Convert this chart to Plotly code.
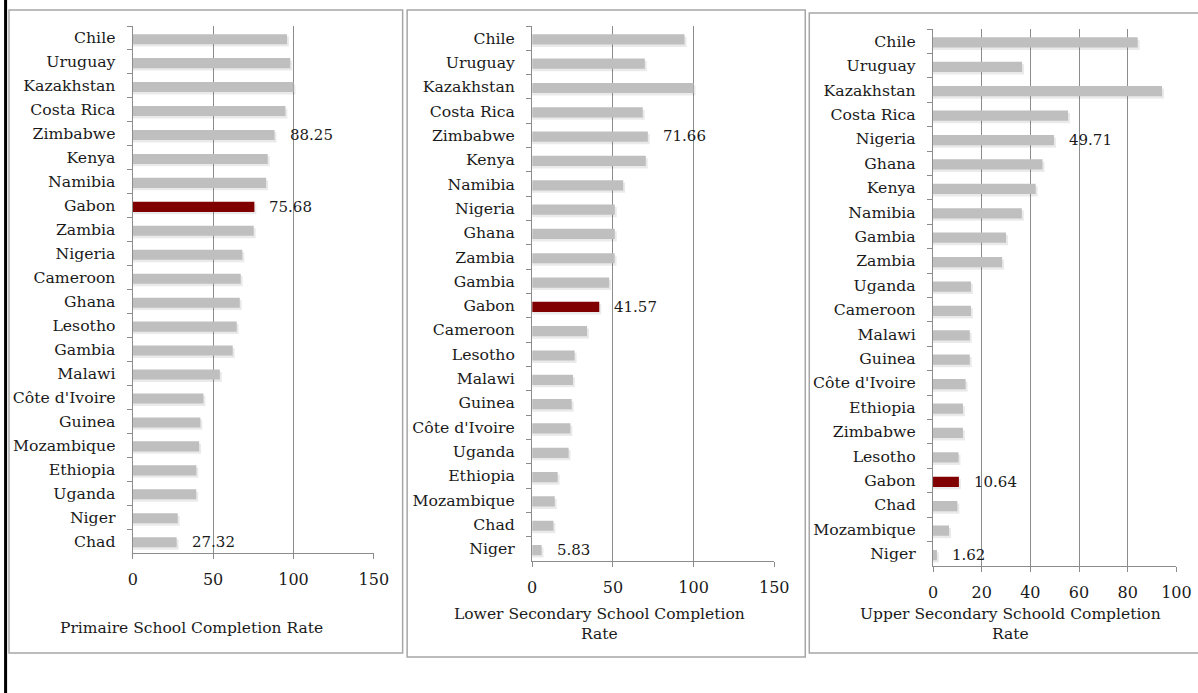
import plotly.graph_objects as go

W, H = 1198, 693
# observed horizontal mapping of the rendered paper: screen_x = X0 + paper_px * (WE / W)
X0, WE = 5.0, 1177.6

# ---------------- data ----------------
p1_countries = ["Chile", "Uruguay", "Kazakhstan", "Costa Rica", "Zimbabwe", "Kenya", "Namibia",
                "Gabon", "Zambia", "Nigeria", "Cameroon", "Ghana", "Lesotho", "Gambia", "Malawi",
                "Côte d'Ivoire", "Guinea", "Mozambique", "Ethiopia", "Uganda", "Niger", "Chad"]
p1_values = [96.0, 98.0, 100.0, 95.0, 88.25, 84.0, 83.0, 75.68, 75.3, 68.2, 67.2, 66.6, 64.7,
             62.2, 54.2, 44.0, 42.1, 41.3, 39.6, 39.5, 28.0, 27.32]
p1_labeled = ["Zimbabwe", "Gabon", "Chad"]

p2_countries = ["Chile", "Uruguay", "Kazakhstan", "Costa Rica", "Zimbabwe", "Kenya", "Namibia",
                "Nigeria", "Ghana", "Zambia", "Gambia", "Gabon", "Cameroon", "Lesotho", "Malawi",
                "Guinea", "Côte d'Ivoire", "Uganda", "Ethiopia", "Mozambique", "Chad", "Niger"]
p2_values = [94.4, 69.8, 100.0, 68.5, 71.66, 70.4, 56.4, 51.2, 51.2, 51.1, 47.7, 41.57, 34.0,
             26.3, 25.3, 24.5, 23.7, 22.6, 15.8, 14.0, 13.2, 5.83]
p2_labeled = ["Zimbabwe", "Gabon", "Niger"]

p3_countries = ["Chile", "Uruguay", "Kazakhstan", "Costa Rica", "Nigeria", "Ghana", "Kenya",
                "Namibia", "Gambia", "Zambia", "Uganda", "Cameroon", "Malawi", "Guinea",
                "Côte d'Ivoire", "Ethiopia", "Zimbabwe", "Lesotho", "Gabon", "Chad",
                "Mozambique", "Niger"]
p3_values = [84.1, 36.6, 94.1, 55.5, 49.71, 45.0, 42.2, 36.5, 30.0, 28.4, 15.6, 15.6, 15.1,
             15.1, 13.4, 12.3, 12.3, 10.5, 10.64, 10.0, 6.6, 1.62]
p3_labeled = ["Nigeria", "Gabon", "Niger"]

x_ticks_12 = [0, 50, 100, 150]
x_ticks_3 = [0, 20, 40, 60, 80, 100]

titles = ["Primaire School Completion Rate",
          "Lower Secondary School Completion<br>Rate",
          "Upper Secondary Schoold Completion<br>Rate"]

# ---------------- styling ----------------
FONT = "DejaVu Serif"
TXT = "#1a1a1a"
GRAY_BAR = "#bfbfbf"
HIGHLIGHT = "#800000"
GRID = "#8c8c8c"
FRAME = "#a6a6a6"


def fx(px):
    return (px - X0) / WE


# panel geometry in pixels: (x_left, x_right, y_top, y_bottom)
plots = [(132.7, 373.7, 26, 553), (532, 774, 26, 561), (932.7, 1176, 29, 566)]
frames = [(9, 402.5, 10, 653), (407, 805, 10, 657), (809, 1260, 13, 653)]
title_pos = [(191, 628), (599, 624), (1010, 624)]
panels = [(p1_countries, p1_values, p1_labeled, [0, 150], x_ticks_12),
          (p2_countries, p2_values, p2_labeled, [0, 150], x_ticks_12),
          (p3_countries, p3_values, p3_labeled, [0, 100], x_ticks_3)]

fig = go.Figure()
annotations = []
shapes = []
BW = 0.42
BOFF = 0.05

for i, (cats, vals, labeled, xr, xt) in enumerate(panels):
    sfx = "" if i == 0 else str(i + 1)
    xa, ya = "x" + sfx, "y" + sfx
    colors = [HIGHLIGHT if c == "Gabon" else GRAY_BAR for c in cats]
    # soft shadow
    fig.add_trace(go.Bar(
        x=[v + (xr[1] * 0.008) for v in vals], y=cats, orientation="h",
        marker=dict(color="rgba(90,90,90,0.13)", line=dict(width=0)),
        width=BW, offset=-BW / 2 + BOFF + 0.1, xaxis=xa, yaxis=ya,
        hoverinfo="skip", showlegend=False))
    fig.add_trace(go.Bar(
        x=vals, y=cats, orientation="h",
        marker=dict(color=colors, line=dict(width=0)),
        width=BW, offset=-BW / 2 + BOFF, xaxis=xa, yaxis=ya, showlegend=False))

    xl, xrp, yt, yb = plots[i]
    n = len(cats)
    fig.update_layout(**{
        "xaxis" + sfx: dict(domain=[fx(xl), fx(xrp)], range=xr, anchor=ya,
                            tickvals=xt, ticks="outside", ticklen=5, tickcolor=GRID,
                            showline=True, linecolor=GRID, linewidth=1.3,
                            showgrid=True, gridcolor=GRID, gridwidth=1.3,
                            zeroline=False, ticklabelstandoff=7,
                            tickfont=dict(family=FONT, size=16, color=TXT), fixedrange=True),
        "yaxis" + sfx: dict(domain=[1 - yb / H, 1 - yt / H], anchor=xa, type="category",
                            categoryorder="array", categoryarray=cats,
                            range=[n - 0.5, -0.5], tickson="boundaries",
                            ticks="outside", ticklen=5, tickcolor=GRID,
                            showline=True, linecolor=GRID, linewidth=1.3,
                            showgrid=False, zeroline=False, ticklabelstandoff=13,
                            tickfont=dict(family=FONT, size=15.7, color=TXT), fixedrange=True),
    })
    for c, v in zip(cats, vals):
        if c in labeled:
            annotations.append(dict(x=v, y=c, xref=xa, yref=ya, text=f"{v:.2f}",
                                    showarrow=False, xanchor="left", xshift=13, yshift=-1,
                                    font=dict(family=FONT, size=15, color=TXT)))
    tx, ty = title_pos[i]
    annotations.append(dict(x=fx(tx), y=1 - ty / H, xref="paper", yref="paper",
                            text=titles[i], showarrow=False, xanchor="center",
                            yanchor="middle", align="center",
                            font=dict(family=FONT, size=15.5, color=TXT)))
    fx0, fx1, fy0, fy1 = frames[i]
    shapes.append(dict(type="rect", xref="paper", yref="paper",
                       x0=fx(fx0), x1=fx(fx1), y0=1 - fy1 / H, y1=1 - fy0 / H,
                       line=dict(color=FRAME, width=1.5), layer="below"))

shapes.append(dict(type="line", xref="paper", yref="paper", x0=0.0005, x1=0.0005, y0=0, y1=1,
                   line=dict(color="black", width=3)))

fig.update_layout(width=W, height=H, margin=dict(l=0, r=0, t=0, b=0),
                  paper_bgcolor="white", plot_bgcolor="white", barmode="overlay",
                  annotations=annotations, shapes=shapes, showlegend=False)

fig.write_html("out.html", config={"responsive": False, "displayModeBar": False},
               post_script="document.documentElement.style.overflow='hidden';"
                           "document.body.style.margin='0';document.body.style.overflow='hidden';")
